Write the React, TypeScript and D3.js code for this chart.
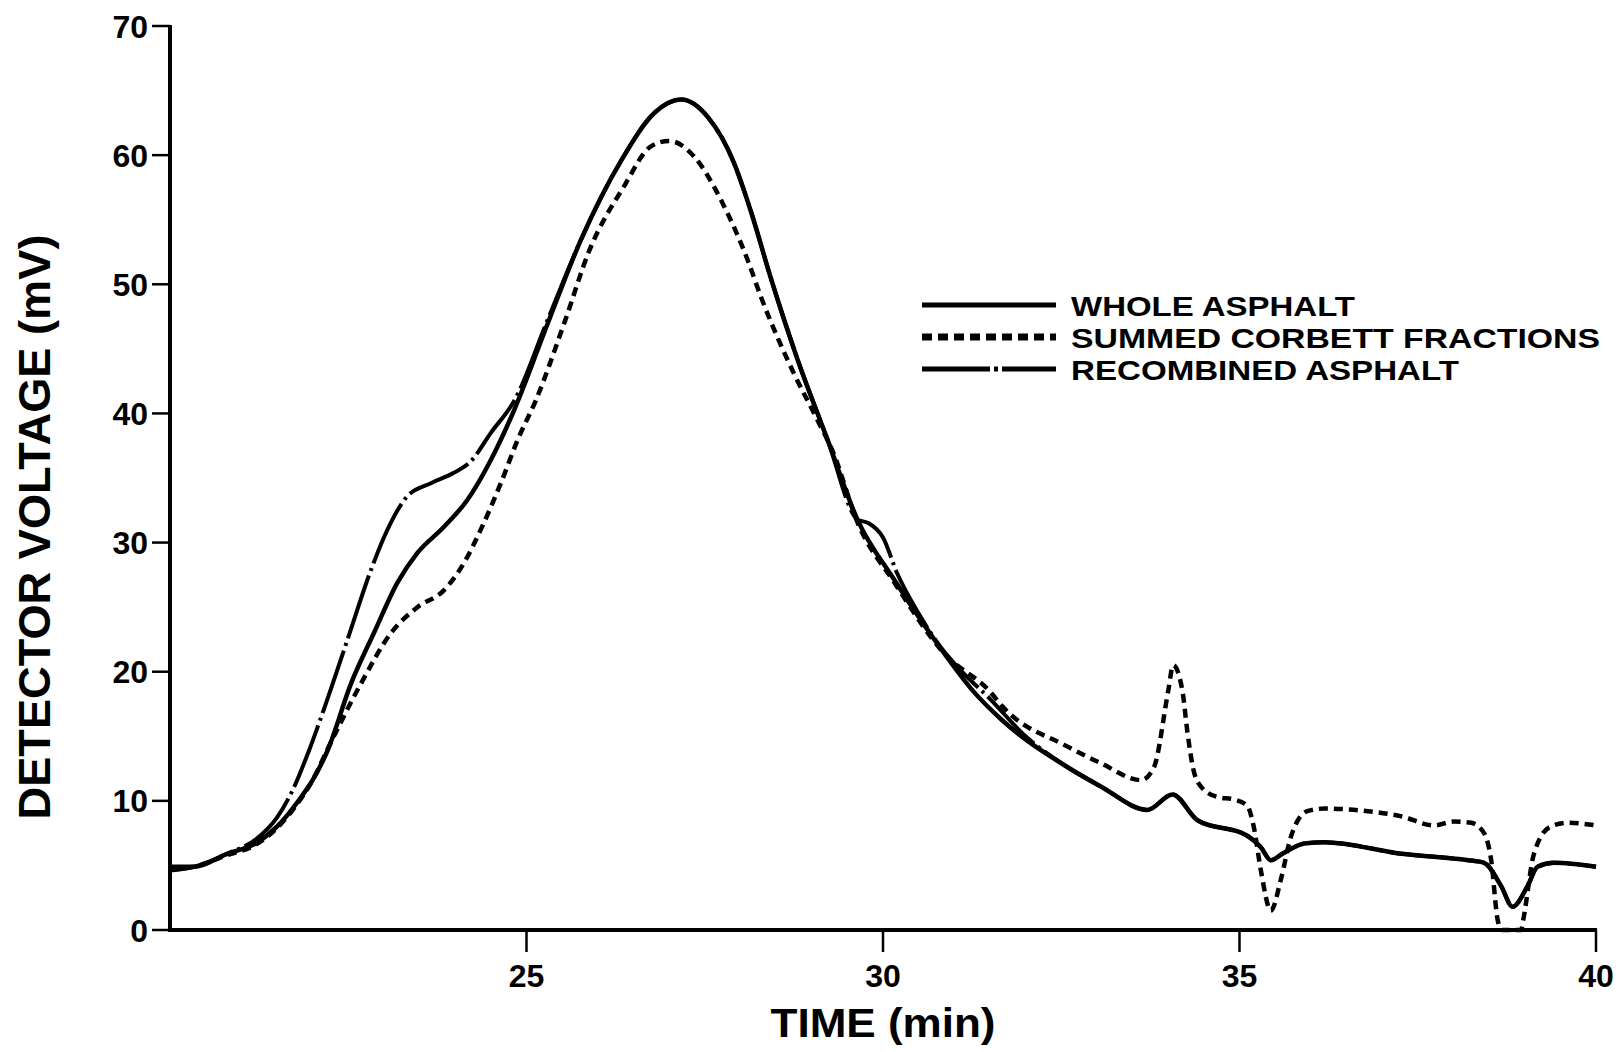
import React from "react";
import * as d3 from "d3";

// ---- data (time in min, detector voltage in mV) ----
const wholeAsphalt: [number, number][] = [
  [20.0, 4.9], [20.34, 4.9], [20.8, 5.9], [21.2, 6.7], [21.5, 8.0], [21.84, 10.3],
  [22.0, 11.6], [22.21, 13.9], [22.54, 19.1], [22.86, 23.0], [23.19, 26.9], [23.47, 29.2],
  [23.84, 31.2], [24.17, 33.3], [24.5, 36.4], [24.83, 40.3], [25.3, 47.0], [25.76, 53.4],
  [26.33, 59.6], [26.8, 63.3], [27.17, 64.3], [27.55, 62.9], [27.91, 59.4], [28.15, 55.6],
  [28.42, 50.6], [28.8, 44.2], [29.22, 38.0], [29.64, 31.8], [30.16, 27.1], [30.72, 22.5],
  [31.28, 18.4], [31.66, 16.3], [32.59, 12.6], [33.06, 11.1], [33.71, 9.3], [34.06, 10.5],
  [34.41, 8.5], [35.11, 7.3], [35.3, 6.4], [35.44, 5.4], [35.6, 5.9], [35.91, 6.7],
  [36.19, 6.8], [37.27, 5.9], [38.21, 5.4], [38.43, 5.2], [38.67, 3.4], [38.83, 1.8],
  [39.04, 3.4], [39.18, 4.9], [39.41, 5.2], [40.0, 4.9],
];

const summedCorbett: [number, number][] = [
  [20.0, 4.7], [20.34, 4.9], [20.8, 5.8], [21.2, 6.6], [21.5, 7.9], [21.84, 10.2],
  [22.0, 11.6], [22.21, 14.0], [22.68, 19.1], [23.1, 23.0], [23.47, 25.0], [23.84, 26.3],
  [24.12, 28.4], [24.4, 31.5], [24.64, 34.6], [24.88, 38.0], [25.13, 41.0], [25.53, 47.0],
  [25.88, 52.6], [26.37, 57.6], [26.75, 60.7], [27.0, 61.1], [27.35, 59.9], [27.73, 56.5],
  [28.1, 51.9], [28.29, 49.0], [28.75, 43.1], [29.08, 39.5], [29.3, 37.0], [29.64, 31.6],
  [30.16, 26.9], [30.86, 21.4], [31.51, 18.4], [31.66, 17.4], [32.59, 14.2], [33.06, 12.9],
  [33.62, 11.6], [33.8, 12.6], [34.0, 18.5], [34.07, 20.5], [34.2, 18.5], [34.27, 15.3],
  [34.35, 12.5], [34.46, 11.1], [34.69, 10.3], [34.93, 10.1], [35.11, 9.6], [35.2, 8.0],
  [35.3, 4.6], [35.44, 1.5], [35.58, 3.9], [35.72, 7.2], [35.95, 9.2], [36.19, 9.4],
  [36.8, 9.2], [37.27, 8.8], [37.73, 8.1], [38.01, 8.4], [38.25, 8.3], [38.43, 7.5],
  [38.53, 5.4], [38.62, 0.8], [38.68, 0.0], [38.95, 0.0], [38.98, 0.8], [39.13, 5.9],
  [39.36, 8.0], [39.6, 8.3], [40.0, 8.1],
];

const recombinedAsphalt: [number, number][] = [
  [20.0, 4.6], [20.34, 4.9], [20.8, 5.9], [21.2, 7.0], [21.5, 8.7], [21.7, 10.6],
  [21.95, 13.9], [22.14, 16.8], [22.49, 22.5], [22.82, 27.9], [23.05, 31.0], [23.33, 33.6],
  [23.66, 34.6], [23.98, 35.4], [24.22, 36.3], [24.5, 38.5], [24.83, 41.0], [25.3, 47.3],
  [25.76, 53.4], [26.33, 59.6], [26.8, 63.3], [27.17, 64.3], [27.55, 62.9], [27.91, 59.4],
  [28.15, 55.6], [28.42, 50.6], [28.8, 44.2], [29.22, 38.0], [29.64, 31.8], [29.8, 31.5],
  [30.0, 30.4], [30.2, 27.6], [30.49, 24.6], [30.81, 21.9], [31.09, 20.1], [31.5, 17.9],
  [32.0, 15.0], [32.59, 12.6], [33.06, 11.1], [33.71, 9.3], [34.06, 10.5], [34.41, 8.5],
  [35.11, 7.3], [35.3, 6.4], [35.44, 5.4], [35.6, 5.9], [35.91, 6.7], [36.19, 6.8],
  [37.27, 5.9], [38.21, 5.4], [38.43, 5.2], [38.67, 3.4], [38.83, 1.8], [39.04, 3.4],
  [39.18, 4.9], [39.41, 5.2], [40.0, 4.9],
];

const xTicks = [25, 30, 35, 40];
const yTicks = [0, 10, 20, 30, 40, 50, 60, 70];
const xTitle = "TIME (min)";
const yTitle = "DETECTOR VOLTAGE (mV)";
const legendLabels = ["WHOLE ASPHALT", "SUMMED CORBETT FRACTIONS", "RECOMBINED ASPHALT"];

const W = 1619;
const H = 1052;
const FONT = "'Liberation Sans', Arial, Helvetica, sans-serif";

export default function App() {
  const x = d3.scaleLinear().domain([20, 40]).range([170, 1596]);
  const y = d3.scaleLinear().domain([0, 70]).range([930, 26]);
  const line = d3
    .line<[number, number]>()
    .x((d) => x(d[0]))
    .y((d) => y(d[1]))
    .curve(d3.curveMonotoneX);

  const styles = [
    { dash: "none", width: 4.5 },
    { dash: "9 6", width: 4.5 },
    { dash: "66 5 3 5", width: 4 },
  ];
  const series = [wholeAsphalt, summedCorbett, recombinedAsphalt];
  const legendRows = [305, 337, 369];
  const legendWidths = [284, 529, 388];

  return (
    <svg
      width={W}
      height={H}
      style={{ position: "absolute", left: 0, top: 0, background: "#fff" }}
      fontFamily={FONT}
      fontWeight="bold"
    >
      <rect x={0} y={0} width={W} height={H} fill="#fff" />
      {/* curves */}
      {series.map((s, i) => (
        <path
          key={i}
          d={line(s) || ""}
          fill="none"
          stroke="#000"
          strokeWidth={styles[i].width}
          strokeDasharray={styles[i].dash}
          strokeLinejoin="round"
        />
      ))}
      {/* axes */}
      <line x1={x(20)} x2={x(20)} y1={y(0) + 2} y2={y(70) - 1} stroke="#000" strokeWidth={4} />
      <line x1={x(20) - 2} x2={x(40) + 1} y1={y(0)} y2={y(0)} stroke="#000" strokeWidth={4} />
      {yTicks.map((t) => (
        <g key={"y" + t}>
          <line x1={x(20) - 18} x2={x(20)} y1={y(t)} y2={y(t)} stroke="#000" strokeWidth={2.5} />
          <text x={148} y={y(t) + 11.5} textAnchor="end" fontSize={32} fill="#000">
            {t}
          </text>
        </g>
      ))}
      {xTicks.map((t) => (
        <g key={"x" + t}>
          <line x1={x(t)} x2={x(t)} y1={y(0)} y2={y(0) + 22} stroke="#000" strokeWidth={2.5} />
          <text x={x(t)} y={987} textAnchor="middle" fontSize={32} fill="#000">
            {t}
          </text>
        </g>
      ))}
      {/* axis titles */}
      <text
        x={883}
        y={1037}
        textAnchor="middle"
        fontSize={41}
        textLength={225}
        lengthAdjust="spacingAndGlyphs"
        fill="#000"
      >
        {xTitle}
      </text>
      <text
        transform={`translate(50,527) rotate(-90)`}
        textAnchor="middle"
        fontSize={45}
        textLength={585}
        lengthAdjust="spacingAndGlyphs"
        fill="#000"
      >
        {yTitle}
      </text>
      {/* legend */}
      {legendLabels.map((lab, i) => (
        <g key={lab}>
          <line
            x1={922}
            x2={1056}
            y1={legendRows[i]}
            y2={legendRows[i]}
            stroke="#000"
            strokeWidth={i === 1 ? 7 : 5}
            strokeDasharray={i === 1 ? "10 6" : i === 2 ? "68 4 4 4" : "none"}
          />
          <text
            x={1071}
            y={legendRows[i] + 10.5}
            fontSize={28}
            textLength={legendWidths[i]}
            lengthAdjust="spacingAndGlyphs"
            fill="#000"
          >
            {lab}
          </text>
        </g>
      ))}
    </svg>
  );
}
